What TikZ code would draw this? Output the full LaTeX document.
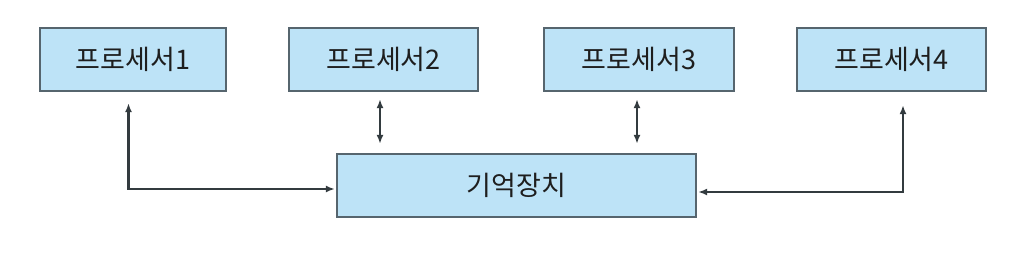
\documentclass[tikz,border=0pt]{standalone}
\usepackage{fontspec}
\newfontfamily\kr{Noto Sans CJK KR}
\usetikzlibrary{arrows.meta}
\definecolor{boxfill}{HTML}{BDE3F7}
\definecolor{boxline}{HTML}{56656E}
\definecolor{arrline}{HTML}{333B3F}
\definecolor{txt}{HTML}{1E1E1E}
\begin{document}
\begin{tikzpicture}[x=1pt,y=1pt,
  box/.style={draw=boxline, fill=boxfill, line width=2.3pt, minimum height=63pt,
    inner sep=0pt, text=txt, font=\kr\fontsize{27}{30}\selectfont},
  arr/.style={draw=arrline, line width=2.2pt, {Latex[length=9pt,width=7pt]}-{Latex[length=9pt,width=7pt]}}]
\useasboundingbox (0,0) rectangle (1024,255);
\node[box, minimum width=186pt] (p1) at (133,195.5) {프로세서1};
\node[box, minimum width=189pt] (p2) at (383.5,195.5) {프로세서2};
\node[box, minimum width=190pt] (p3) at (639,195.5) {프로세서3};
\node[box, minimum width=189pt] (p4) at (891.5,195.5) {프로세서4};
\node[box, minimum width=359pt] (mem) at (516.5,69.5) {기억장치};
\draw[arr] ([xshift=-4.5pt,yshift=-11pt]p1.south) |- ([xshift=-1pt,yshift=-3.5pt]mem.west);
\draw[arr] ([xshift=-3.5pt,yshift=-7pt]p2.south) -- ([xshift=-3.5pt,yshift=9pt]p2.south |- mem.north);
\draw[arr] ([xshift=-2pt,yshift=-7pt]p3.south) -- ([xshift=-2pt,yshift=9pt]p3.south |- mem.north);
\draw[arr] ([xshift=11.5pt,yshift=-13pt]p4.south) |- ([xshift=1pt,yshift=-6.5pt]mem.east);
\end{tikzpicture}
\end{document}
